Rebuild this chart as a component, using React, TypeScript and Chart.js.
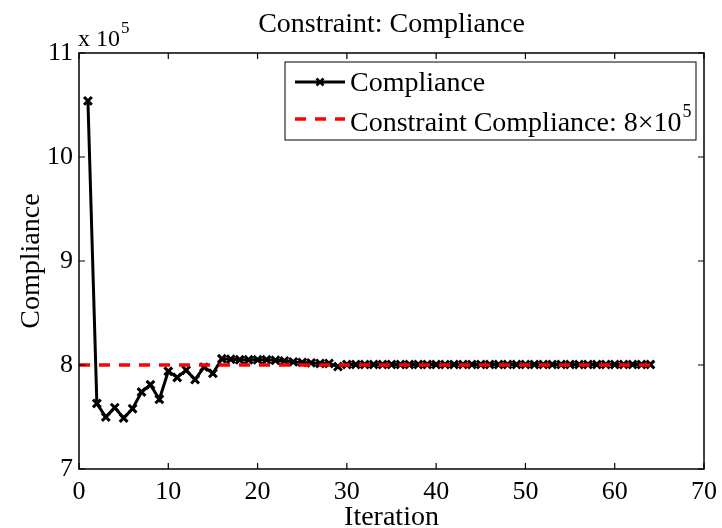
import React, { useEffect, useRef } from "react";
import { Chart, registerables } from "chart.js";

Chart.register(...registerables);

const iterations = [
  1, 2, 3, 4, 5, 6, 7, 8, 9, 10, 11, 12, 13, 14, 15, 16, 17, 18, 19, 20, 21, 22,
  23, 24, 25, 26, 27, 28, 29, 30, 31, 32, 33, 34, 35, 36, 37, 38, 39, 40, 41, 42,
  43, 44, 45, 46, 47, 48, 49, 50, 51, 52, 53, 54, 55, 56, 57, 58, 59, 60, 61, 62,
  63, 64,
];

// Compliance in units of 1e5
const compliance = [
  10.54, 7.63, 7.5, 7.59, 7.49, 7.58, 7.74, 7.81, 7.67, 7.94, 7.88, 7.95, 7.86,
  7.98, 7.92, 8.06, 8.055, 8.05, 8.05, 8.05, 8.05, 8.045, 8.04, 8.03, 8.025,
  8.02, 8.015, 8.015, 7.985, 8.005, 8.005, 8.005, 8.005, 8.005, 8.005, 8.005,
  8.005, 8.005, 8.005, 8.005, 8.005, 8.005, 8.005, 8.005, 8.005, 8.005, 8.005,
  8.005, 8.005, 8.005, 8.005, 8.005, 8.005, 8.005, 8.005, 8.005, 8.005, 8.005,
  8.005, 8.005, 8.005, 8.005, 8.005, 8.005,
];

const constraintX = [0, 64];
const constraintY = [8, 8];

const xTicks = [0, 10, 20, 30, 40, 50, 60, 70];
const yTicks = [7, 8, 9, 10, 11];

const titleText = "Constraint: Compliance";
const xLabel = "Iteration";
const yLabel = "Compliance";
const legendLabels = ["Compliance", "Constraint Compliance: 8\u00d710"];
const legendSup = "5";
const exponentText = "x 10";
const exponentSup = "5";

const FONT = "'Liberation Serif', 'Times New Roman', serif";
const FS = 26;
const FL = 28;

export default function App() {
  const ref = useRef<HTMLCanvasElement | null>(null);
  useEffect(() => {
    document.body.style.margin = "0";
    const canvas = ref.current!;
    const decor = {
      id: "decor",
      afterDraw(chart: any) {
        const ctx = chart.ctx as CanvasRenderingContext2D;
        const a = chart.chartArea;
        const xs = chart.scales.x;
        const ys = chart.scales.y;
        ctx.save();
        // box
        ctx.strokeStyle = "#000";
        ctx.lineWidth = 1.5;
        ctx.strokeRect(a.left, a.top, a.right - a.left, a.bottom - a.top);
        // inward ticks
        ctx.lineWidth = 1.2;
        const tl = 6;
        ctx.beginPath();
        for (const t of xTicks) {
          const px = xs.getPixelForValue(t);
          ctx.moveTo(px, a.bottom);
          ctx.lineTo(px, a.bottom - tl);
          ctx.moveTo(px, a.top);
          ctx.lineTo(px, a.top + tl);
        }
        for (const t of yTicks) {
          const py = ys.getPixelForValue(t);
          ctx.moveTo(a.left, py);
          ctx.lineTo(a.left + tl, py);
          ctx.moveTo(a.right, py);
          ctx.lineTo(a.right - tl, py);
        }
        ctx.stroke();
        // title
        ctx.fillStyle = "#000";
        ctx.font = `${FL}px ${FONT}`;
        ctx.textAlign = "center";
        ctx.textBaseline = "alphabetic";
        ctx.fillText(titleText, (a.left + a.right) / 2, 32);
        // x label
        ctx.fillText(xLabel, (a.left + a.right) / 2, 525);
        // y label
        ctx.save();
        ctx.translate(39, (a.top + a.bottom) / 2);
        ctx.rotate(-Math.PI / 2);
        ctx.fillText(yLabel, 0, 0);
        ctx.restore();
        // exponent
        ctx.textAlign = "left";
        ctx.font = `24px ${FONT}`;
        ctx.fillText(exponentText, a.left - 1, 46);
        const ew = ctx.measureText(exponentText).width;
        ctx.font = `17px ${FONT}`;
        ctx.fillText(exponentSup, a.left + ew, 33);
        // legend
        const lx = 285, ly = 62, lw = 411, lh = 78;
        ctx.fillStyle = "#fff";
        ctx.fillRect(lx, ly, lw, lh);
        ctx.lineWidth = 1;
        ctx.strokeStyle = "#000";
        ctx.strokeRect(lx, ly, lw, lh);
        // row 1
        ctx.lineWidth = 3;
        ctx.beginPath();
        ctx.moveTo(295, 82);
        ctx.lineTo(345, 82);
        ctx.stroke();
        ctx.lineWidth = 2.5;
        const m = 3.5;
        ctx.beginPath();
        ctx.moveTo(320 - m, 82 - m);
        ctx.lineTo(320 + m, 82 + m);
        ctx.moveTo(320 - m, 82 + m);
        ctx.lineTo(320 + m, 82 - m);
        ctx.stroke();
        ctx.fillStyle = "#000";
        ctx.font = `${FL}px ${FONT}`;
        ctx.fillText(legendLabels[0], 350, 91);
        // row 2
        ctx.strokeStyle = "#ff0000";
        ctx.lineWidth = 3.5;
        ctx.setLineDash([11, 9]);
        ctx.beginPath();
        ctx.moveTo(295, 119);
        ctx.lineTo(345, 119);
        ctx.stroke();
        ctx.setLineDash([]);
        ctx.fillText(legendLabels[1], 350, 131);
        const w2 = ctx.measureText(legendLabels[1]).width;
        ctx.font = `18px ${FONT}`;
        ctx.fillText(legendSup, 350 + w2 + 1, 117);
        ctx.restore();
      },
    };
    const chart = new Chart(canvas, {
      type: "line",
      data: {
        datasets: [
          {
            label: "Constraint Compliance",
            data: constraintX.map((x, i) => ({ x, y: constraintY[i] })),
            borderColor: "#ff0000",
            borderWidth: 3.5,
            borderDash: [11, 9],
            pointRadius: 0,
            order: 0,
          },
          {
            label: "Compliance",
            data: iterations.map((x, i) => ({ x, y: compliance[i] })),
            borderColor: "#000",
            backgroundColor: "#000",
            borderWidth: 3,
            pointStyle: "crossRot",
            pointRadius: 5.5,
            pointBorderWidth: 3,
            pointBorderColor: "#000",
            order: 1,
          },
        ],
      },
      options: {
        animation: false,
        responsive: false,
        events: [],
        layout: { padding: { top: 53, right: 18, left: 0, bottom: 0 } },
        plugins: {
          legend: { display: false },
          title: { display: false },
          tooltip: { enabled: false },
        },
        scales: {
          x: {
            type: "linear",
            min: 0,
            max: 70,
            afterFit: (s: any) => {
              s.height = 59;
              s.paddingRight = 0;
              s.paddingLeft = 0;
            },
            afterBuildTicks: (s: any) => {
              s.ticks = xTicks.map((v) => ({ value: v }));
            },
            grid: { display: false, drawTicks: false },
            border: { display: false },
            ticks: {
              color: "#000",
              padding: 8,
              maxRotation: 0,
              font: { family: FONT, size: FS },
            },
          },
          y: {
            type: "linear",
            min: 7,
            max: 11,
            afterFit: (s: any) => {
              s.width = 79;
              s.paddingTop = 0;
              s.paddingBottom = 0;
            },
            afterBuildTicks: (s: any) => {
              s.ticks = yTicks.map((v) => ({ value: v }));
            },
            grid: { display: false, drawTicks: false },
            border: { display: false },
            ticks: {
              color: "#000",
              padding: 6,
              font: { family: FONT, size: FS },
            },
          },
        },
      },
      plugins: [decor],
    });
    return () => chart.destroy();
  }, []);
  return (
    <canvas
      ref={ref}
      width={722}
      height={528}
      style={{ display: "block", width: 722, height: 528 }}
    />
  );
}
